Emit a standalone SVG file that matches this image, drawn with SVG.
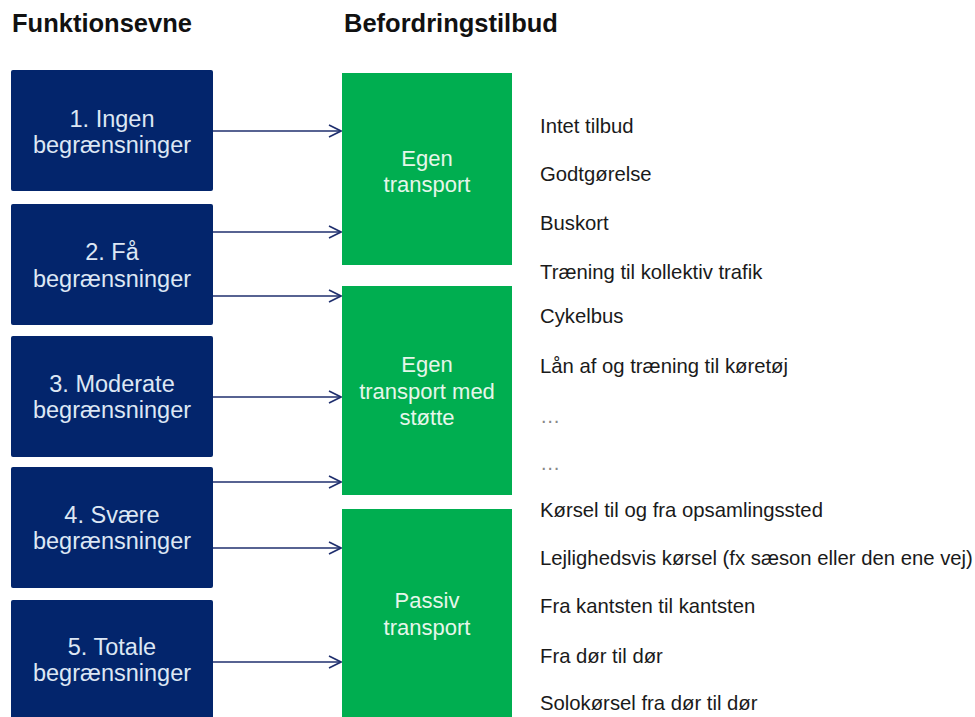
<svg xmlns="http://www.w3.org/2000/svg" width="975" height="717" viewBox="0 0 975 717">
<style>
.hdr{font-family:"Liberation Sans",Arial,sans-serif;font-weight:bold;font-size:25.5px;fill:#111}
.fb{fill:#03256c}
.ft{font-family:"Liberation Sans",Arial,sans-serif;font-size:23.5px;fill:#dde7f4;text-anchor:middle}
.gb{fill:#00AE50}
.gt{font-family:"Liberation Sans",Arial,sans-serif;font-size:22px;fill:#e6f6ea;text-anchor:middle}
.li{font-family:"Liberation Sans",Arial,sans-serif;font-size:20.3px;fill:#1a1a1a}
.cn{stroke:#1f2f6e;stroke-width:1.6;fill:none;marker-end:url(#ah)}
</style>
<defs>
<marker id="ah" markerUnits="userSpaceOnUse" markerWidth="14" markerHeight="14" refX="13" refY="7" orient="auto">
<path d="M1,1 L13,7 L1,13" fill="none" stroke="#1f2f6e" stroke-width="1.6"/>
</marker>
</defs>
<rect width="975" height="717" fill="#fff"/>
<text class="hdr" x="12" y="32">Funktionsevne</text>
<text class="hdr" x="344" y="32">Befordringstilbud</text>

<g id="f1"><rect class="fb" x="11" y="70" width="202" height="121" rx="2"/><text class="ft" x="112" y="127">1. Ingen</text><text class="ft" x="112" y="153">begrænsninger</text></g>
<g id="f2"><rect class="fb" x="11" y="204" width="202" height="121" rx="2"/><text class="ft" x="112" y="260">2. Få</text><text class="ft" x="112" y="287">begrænsninger</text></g>
<g id="f3"><rect class="fb" x="11" y="336" width="202" height="121" rx="2"/><text class="ft" x="112" y="392">3. Moderate</text><text class="ft" x="112" y="418">begrænsninger</text></g>
<g id="f4"><rect class="fb" x="11" y="467" width="202" height="121" rx="2"/><text class="ft" x="112" y="523">4. Svære</text><text class="ft" x="112" y="549">begrænsninger</text></g>
<g id="f5"><rect class="fb" x="11" y="600" width="202" height="130" rx="2"/><text class="ft" x="112" y="655">5. Totale</text><text class="ft" x="112" y="681">begrænsninger</text></g>

<g id="g1"><rect class="gb" x="342" y="73" width="170" height="192"/><text class="gt" x="427" y="166">Egen</text><text class="gt" x="427" y="192">transport</text></g>
<g id="g2"><rect class="gb" x="342" y="286" width="170" height="209"/><text class="gt" x="427" y="372">Egen</text><text class="gt" x="427" y="399">transport med</text><text class="gt" x="427" y="425">støtte</text></g>
<g id="g3"><rect class="gb" x="342" y="509" width="170" height="220"/><text class="gt" x="427" y="608">Passiv</text><text class="gt" x="427" y="635">transport</text></g>

<g id="connectors">
<line class="cn" x1="213" y1="131" x2="341" y2="131"/>
<line class="cn" x1="213" y1="232" x2="341" y2="232"/>
<line class="cn" x1="213" y1="296" x2="341" y2="296"/>
<line class="cn" x1="213" y1="397" x2="341" y2="397"/>
<line class="cn" x1="213" y1="482" x2="341" y2="482"/>
<line class="cn" x1="213" y1="548" x2="341" y2="548"/>
<line class="cn" x1="213" y1="662" x2="341" y2="662"/>
</g>

<g id="list">
<text class="li" x="540" y="133">Intet tilbud</text>
<text class="li" x="540" y="181">Godtgørelse</text>
<text class="li" x="540" y="230">Buskort</text>
<text class="li" x="540" y="279">Træning til kollektiv trafik</text>
<text class="li" x="540" y="323">Cykelbus</text>
<text class="li" x="540" y="373">Lån af og træning til køretøj</text>
<text class="li" x="540" y="423" style="fill:#888">…</text>
<text class="li" x="540" y="470" style="fill:#888">…</text>
<text class="li" x="540" y="517">Kørsel til og fra opsamlingssted</text>
<text class="li" x="540" y="565">Lejlighedsvis kørsel (fx sæson eller den ene vej)</text>
<text class="li" x="540" y="613">Fra kantsten til kantsten</text>
<text class="li" x="540" y="663">Fra dør til dør</text>
<text class="li" x="540" y="710">Solokørsel fra dør til dør</text>
</g>
</svg>
